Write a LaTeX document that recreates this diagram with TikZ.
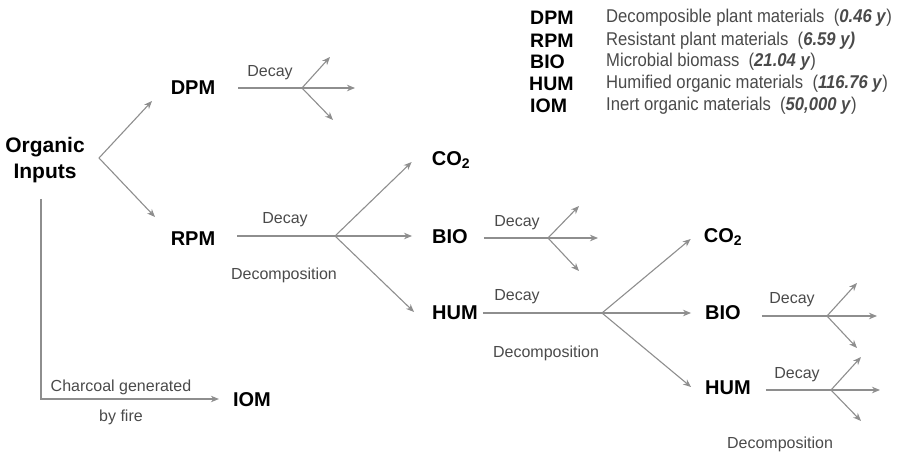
\documentclass[tikz,border=0pt]{standalone}
\usepackage{fontspec}
\setmainfont{Liberation Sans}
\newfontfamily\narrowfont[FakeStretch=0.9]{Liberation Sans}
\usetikzlibrary{arrows.meta}
\definecolor{ln}{HTML}{8E8E8E}
\definecolor{tx}{HTML}{4A4A4A}
\tikzset{
 lab/.style={font=\fontsize{20}{22}\selectfont\bfseries, text=black, inner sep=0pt},
 small/.style={font=\fontsize{16}{18}\selectfont, text=tx, inner sep=0pt},
 conn/.style={draw=ln, line width=1.1pt},
 arr/.style={conn, -{Stealth[length=8pt,width=6.5pt,inset=2.5pt]}},
 key/.style={font=\fontsize{19.5}{21}\selectfont\bfseries, text=black, inner sep=0pt, anchor=west},
 desc/.style={font=\narrowfont\fontsize{18.5}{20}\selectfont, text=tx, inner sep=0pt, anchor=west},
}
\begin{document}
\begin{tikzpicture}[x=1pt,y=-1pt]
\useasboundingbox (0,0) rectangle (898,453);
% main labels
\node[lab, font=\fontsize{21}{26}\selectfont\bfseries, align=center] (org) at (45,160) {Organic\\Inputs};
\node[lab] (dpm) at (193,88) {DPM};
\node[lab] (rpm) at (193,239) {RPM};
\node[lab] (co2a) at (451,160) {CO$_\mathbf{2}$};
\node[lab] (bioa) at (450,237) {BIO};
\node[lab] (huma) at (455,313) {HUM};
\node[lab] (co2b) at (723,237) {CO$_\mathbf{2}$};
\node[lab] (biob) at (723,313) {BIO};
\node[lab] (humb) at (728,388) {HUM};
\node[lab] (iom) at (252,400) {IOM};
% coordinates
\coordinate (f0) at (99,158);
\coordinate (e0a) at (152,101);
\coordinate (e0b) at (155,217);
\coordinate (f1) at (302,88);
\coordinate (e1a) at (330,57);
\coordinate (e1b) at (355,88);
\coordinate (e1c) at (333,120);
\coordinate (f2) at (335,236);
\coordinate (f3) at (548,238);
\coordinate (e3a) at (579,206);
\coordinate (e3b) at (598,238);
\coordinate (e3c) at (579,271);
\coordinate (f4) at (602,313);
\coordinate (f5) at (827,316);
\coordinate (e5a) at (857,283);
\coordinate (e5b) at (877,316);
\coordinate (e5c) at (857,348);
\coordinate (f6) at (831,390);
\coordinate (e6a) at (861,357);
\coordinate (e6b) at (880,390);
\coordinate (e6c) at (861,421);
\coordinate (c0) at (41,399);
% organic inputs fork
\draw[arr] (f0) -- (e0a);
\draw[arr] (f0) -- (e0b);
% DPM decay
\draw[conn] ([xshift=23pt]dpm.east) -- (f1);
\draw[arr] (f1) -- (e1a);
\draw[arr] (f1) -- (e1b);
\draw[arr] (f1) -- (e1c);
% RPM decay
\draw[conn] ([xshift=22pt,yshift=3pt]rpm.east) -- (f2);
\draw[arr] (f2) -- ([xshift=-20pt,yshift=-2pt]co2a.west);
\draw[arr] (f2) -- ([xshift=-20pt,yshift=1pt]bioa.west);
\draw[arr] (f2) -- ([xshift=-18pt,yshift=1pt]huma.west);
% BIO a decay
\draw[conn] ([xshift=16pt,yshift=-1pt]bioa.east) -- (f3);
\draw[arr] (f3) -- (e3a);
\draw[arr] (f3) -- (e3b);
\draw[arr] (f3) -- (e3c);
% HUM a decay
\draw[conn] ([xshift=5pt]huma.east) -- (f4);
\draw[arr] (f4) -- ([xshift=-13pt,yshift=-2pt]co2b.west);
\draw[arr] (f4) -- ([xshift=-14pt]biob.west);
\draw[arr] (f4) -- ([xshift=-14pt,yshift=1pt]humb.west);
% BIO b decay
\draw[conn] ([xshift=21pt,yshift=-3pt]biob.east) -- (f5);
\draw[arr] (f5) -- (e5a);
\draw[arr] (f5) -- (e5b);
\draw[arr] (f5) -- (e5c);
% HUM b decay
\draw[conn] ([xshift=15pt,yshift=-2pt]humb.east) -- (f6);
\draw[arr] (f6) -- (e6a);
\draw[arr] (f6) -- (e6b);
\draw[arr] (f6) -- (e6c);
% charcoal
\draw[arr] ([yshift=-16pt]org.south -| c0) -- (c0) -- ([xshift=-14pt,yshift=1pt]iom.west);
% small labels
\node[small] (d1) at (270,73) {Decay};
\node[small] (d2) at (285,220) {Decay};
\node[small] (dc2) at (284,275) {Decomposition};
\node[small] (d3) at (517,223) {Decay};
\node[small] (d4) at (517,297) {Decay};
\node[small] (dc4) at (546,353) {Decomposition};
\node[small] (d5) at (792,300) {Decay};
\node[small] (d6) at (797,375) {Decay};
\node[small] (dc6) at (780,444) {Decomposition};
\node[small] (ch1) at (121,387) {Charcoal generated};
\node[small] (ch2) at (121,417) {by fire};
% legend
\node[key] (k1) at (530,18) {DPM};
\node[key] (k2) at (530,41) {RPM};
\node[key] (k3) at (530,62) {BIO};
\node[key] (k4) at (529,84) {HUM};
\node[key] (k5) at (530,106) {IOM};
\node[desc] (t1) at (606,18) {Decomposible plant materials \ (\textbf{\textit{0.46 y}})};
\node[desc] (t2) at (606,41) {Resistant plant materials \ (\textbf{\textit{6.59 y)}}};
\node[desc] (t3) at (606,62) {Microbial biomass \ (\textbf{\textit{21.04 y}})};
\node[desc] (t4) at (606,84) {Humified organic materials \ (\textbf{\textit{116.76 y}})};
\node[desc] (t5) at (606,106) {Inert organic materials \ (\textbf{\textit{50,000 y}})};
\end{tikzpicture}
\end{document}
